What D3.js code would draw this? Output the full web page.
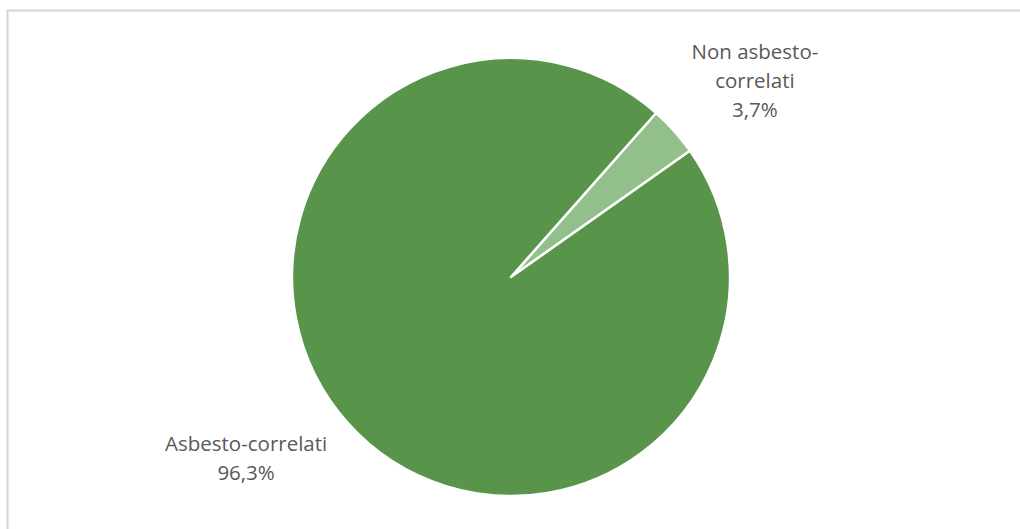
<!DOCTYPE html>
<html>
<head>
<meta charset="utf-8">
<script src="https://cdn.jsdelivr.net/npm/d3@7"></script>
<style>
  body { margin: 0; background: #fff; }
  svg { display: block; }
  .label { font-family: "Open Sans", Lato, sans-serif; font-size: 20.5px; fill: #595959; }
</style>
</head>
<body>
<svg id="chart" width="1020" height="529"></svg>
<script>
const categories = ["Non asbesto-correlati", "Asbesto-correlati"];
const labelLines = [["Non asbesto-", "correlati", "3,7%"], ["Asbesto-correlati", "96,3%"]];
const values = [3.7, 96.3];
const colors = ["#93bf8b", "#59944b"];

const svg = d3.select("#chart");

// chart frame (runs off the right and bottom edges)
svg.append("rect")
  .attr("x", 7.5).attr("y", 10.5)
  .attr("width", 1030).attr("height", 540)
  .attr("fill", "none")
  .attr("stroke", "#d4d4d4")
  .attr("stroke-width", 2);

const cx = 511, cy = 277, radius = 219;
const rot = 41.5 * Math.PI / 180;

const pie = d3.pie().sort(null).value(d => d)
  .startAngle(rot).endAngle(rot + 2 * Math.PI);
const arcs = pie(values);

const arc = d3.arc().innerRadius(0).outerRadius(radius);

const g = svg.append("g").attr("transform", `translate(${cx},${cy})`);

g.selectAll("path")
  .data(arcs)
  .enter().append("path")
  .attr("d", arc)
  .attr("fill", (d, i) => colors[i])
  .attr("stroke", "#fff")
  .attr("stroke-width", 2.5)
  .attr("stroke-linejoin", "round");

// label anchors: outside the slice along its mid angle
const labelArc = [1.43, 1.465];
const angleShift = [3, 7.5];
const lineH = 29;

arcs.forEach((d, i) => {
  const a = (d.startAngle + d.endAngle) / 2 + angleShift[i] * Math.PI / 180;
  const r = radius * labelArc[i];
  const x = Math.sin(a) * r;
  const y = -Math.cos(a) * r;
  const lines = labelLines[i];
  const t = g.append("text")
    .attr("class", "label")
    .attr("text-anchor", "middle");
  lines.forEach((s, j) => {
    t.append("tspan")
      .attr("x", x)
      .attr("y", y + (j - (lines.length - 1) / 2) * lineH)
      .attr("dy", "0.35em")
      .text(s);
  });
});
</script>
</body>
</html>
